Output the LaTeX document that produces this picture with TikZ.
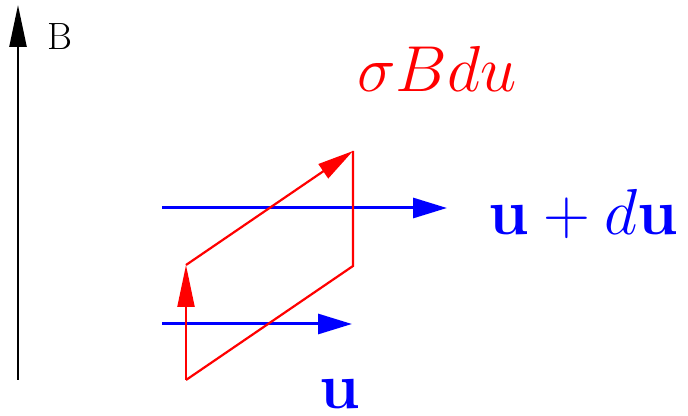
\RequirePackage{fix-cm}
\documentclass[tikz,border=0pt]{standalone}
\usepackage{amsmath,amssymb}
\usetikzlibrary{arrows.meta}

\begin{document}
\begin{tikzpicture}[x=1pt, y=1pt, every node/.style={font=\fontsize{65}{72}\selectfont, inner sep=0pt}, >={Triangle[length=42pt,width=17pt]}]
	\useasboundingbox (0,0) rectangle (688,415);
	\coordinate (axisfoot) at (18,35);
	\coordinate (axistop) at (18,410);
	\coordinate (loopa) at (186,35);
	\coordinate (loopb) at (186,150);
	\coordinate (loopc) at (353,264);
	\coordinate (loopd) at (353,149);
	\coordinate (ustart) at (162,91);
	\coordinate (uend) at (352,91);
	\coordinate (dustart) at (162,207);
	\coordinate (duend) at (447,207);
	\draw[->, line width=2.5pt] (axisfoot) -- (axistop);
	\node[anchor=base, font=\fontsize{38}{44}\selectfont] (blabel) at (60,365) {B};
	\draw[blue, line width=3pt, -{Triangle[length=34pt,width=20pt]}] (ustart) -- (uend);
	\draw[blue, line width=3pt, -{Triangle[length=34pt,width=20pt]}] (dustart) -- (duend);
	\draw[red, line width=2.2pt, ->] (loopa) -- (loopb);
	\draw[red, line width=2.2pt, -{Triangle[length=36pt,width=17pt]}] (loopb) -- (loopc);
	\draw[red, line width=2.2pt] (loopc) -- (loopd) -- (loopa);
	\node[red, anchor=base] (flux) at (437,323) {$\sigma B du$};
	\node[blue, anchor=base] (dulabel) at (583,180) {$\mathbf{u}+d\mathbf{u}$};
	\node[blue, anchor=base] (ulabel) at (340,7) {$\mathbf{u}$};
\end{tikzpicture}
\end{document}
